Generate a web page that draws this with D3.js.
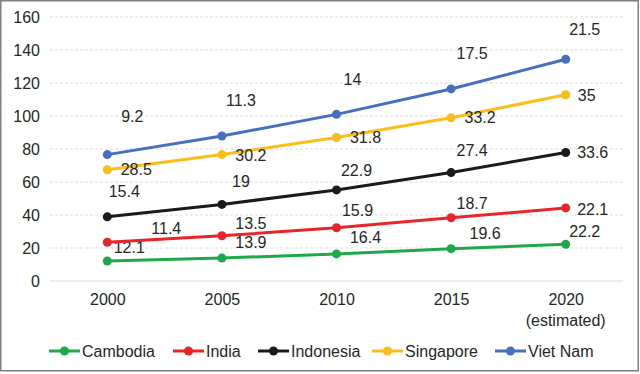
<!DOCTYPE html>
<html>
<head>
<meta charset="utf-8">
<script src="https://cdn.jsdelivr.net/npm/d3@7"></script>
<style>
  body { margin: 0; background: #fff; }
  text { font-family: "Liberation Sans", Arial, sans-serif; fill: #262626; }
</style>
</head>
<body>
<div id="chart"></div>
<script>
var years = ["2000", "2005", "2010", "2015", "2020"];
var yearSub = ["", "", "", "", "(estimated)"];
var seriesNames = ["Cambodia", "India", "Indonesia", "Singapore", "Viet Nam"];
var cambodia = [12.1, 13.9, 16.4, 19.6, 22.2];
var india = [11.4, 13.5, 15.9, 18.7, 22.1];
var indonesia = [15.4, 19, 22.9, 27.4, 33.6];
var singapore = [28.5, 30.2, 31.8, 33.2, 35];
var vietnam = [9.2, 11.3, 14, 17.5, 21.5];
var yTicks = [0, 20, 40, 60, 80, 100, 120, 140, 160];

var colors = ["#1fa84a", "#e8262a", "#1a1a1a", "#fbbd19", "#4670bf"];

// where each value label sits relative to its point (hand placed in the original)
var labelOffsets = [
    [[22, -14], [29, -16], [29, -17], [34, -15], [19, -13]],
    [[59, -14], [29, -12], [21, -17], [21, -14], [27, 1]],
    [[17, -25], [19, -23], [20, -20], [21, -22], [27, 0]],
    [[29, 0], [29, 1], [29, 0], [29, 0], [21, 1]],
    [[25, -38], [19, -36], [16, -35], [21, -36], [19, -30]]
];

var width = 640, height = 374;
var margin = {left: 50, right: 17, top: 17, bottom: 93};
var fs = "16px";

var svg = d3.select("#chart").append("svg")
    .attr("width", width)
    .attr("height", height);

svg.append("rect")
    .attr("x", 0.75).attr("y", 0.75)
    .attr("width", width - 2.5).attr("height", height - 4)
    .attr("fill", "#fff")
    .attr("stroke", "#7f7f7f")
    .attr("stroke-width", 1.5);

var x = d3.scalePoint()
    .domain(years)
    .range([margin.left, width - margin.right])
    .padding(0.5);

var y = d3.scaleLinear()
    .domain([0, 160])
    .range([height - margin.bottom, margin.top]);

// grid
var grid = svg.append("g");
grid.selectAll("line")
    .data(yTicks)
    .join("line")
    .attr("x1", margin.left)
    .attr("x2", width - margin.right)
    .attr("y1", d => y(d))
    .attr("y2", d => y(d))
    .attr("stroke", d => d == 0 ? "#d9d9d9" : "#dcdcdc")
    .attr("stroke-width", 1)
    .attr("stroke-dasharray", d => d == 0 ? null : "3,2");

// y axis
var yAxis = svg.append("g")
    .attr("transform", "translate(" + margin.left + ",0)")
    .call(d3.axisLeft(y).tickValues(yTicks).tickSize(0).tickPadding(10));
yAxis.select(".domain").remove();
yAxis.selectAll("text").style("font-size", fs).attr("fill", "#262626");

// x axis
var xAxis = svg.append("g")
    .attr("transform", "translate(0," + y(0) + ")")
    .call(d3.axisBottom(x).tickSize(0).tickPadding(13));
xAxis.select(".domain").remove();
xAxis.selectAll("text").style("font-size", fs).attr("fill", "#262626");
svg.append("g").selectAll("text")
    .data(years)
    .join("text")
    .attr("x", d => x(d))
    .attr("y", y(0) + 45)
    .attr("text-anchor", "middle")
    .style("font-size", fs)
    .text((d, i) => yearSub[i]);

// stacked series
var values = [cambodia, india, indonesia, singapore, vietnam];
var stacked = [];
var running = years.map(() => 0);
values.forEach(function (vals, s) {
    running = running.map((r, i) => r + vals[i]);
    stacked.push(running.map((r, i) => ({year: years[i], total: r, value: vals[i], off: labelOffsets[s][i]})));
});

var line = d3.line()
    .x(d => x(d.year))
    .y(d => y(d.total));

var seriesG = svg.append("g").selectAll("g")
    .data(stacked)
    .join("g");

seriesG.append("path")
    .attr("d", d => line(d))
    .attr("fill", "none")
    .attr("stroke", (d, i) => colors[i])
    .attr("stroke-width", 3);

seriesG.each(function (d, s) {
    var g = d3.select(this);
    g.selectAll("circle")
        .data(d)
        .join("circle")
        .attr("cx", p => x(p.year))
        .attr("cy", p => y(p.total))
        .attr("r", 4.5)
        .attr("fill", colors[s]);
    g.selectAll("text")
        .data(d)
        .join("text")
        .attr("x", p => x(p.year) + p.off[0])
        .attr("y", p => y(p.total) + p.off[1])
        .attr("dy", "0.35em")
        .attr("text-anchor", "middle")
        .style("font-size", fs)
        .text(p => p.value);
});

// legend
var legendX = [49, 173, 258, 372, 495];
var legend = svg.append("g").selectAll("g")
    .data(seriesNames)
    .join("g")
    .attr("transform", (d, i) => "translate(" + legendX[i] + ",351)");
legend.append("line")
    .attr("x1", 0).attr("x2", 31)
    .attr("stroke", (d, i) => colors[i])
    .attr("stroke-width", 3);
legend.append("circle")
    .attr("cx", 15.5).attr("r", 4.5)
    .attr("fill", (d, i) => colors[i]);
legend.append("text")
    .attr("x", 33)
    .attr("dy", "0.35em")
    .style("font-size", fs)
    .text(d => d);
</script>
</body>
</html>
